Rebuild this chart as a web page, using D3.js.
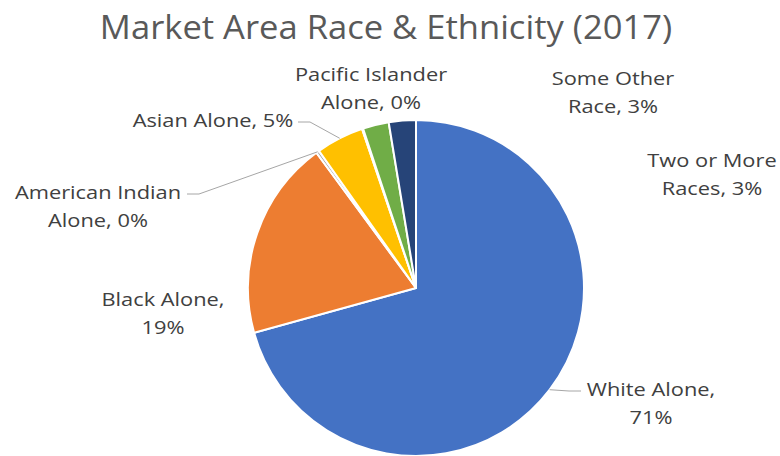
<!DOCTYPE html>
<html lang="en">
<head>
  <meta charset="UTF-8">
  <title>Market Area Race & Ethnicity (2017)</title>
  <style>
    body {
      margin: 0;
      padding: 0;
      background: #fff;
    }
    svg text {
      font-family: "Open Sans", Lato, sans-serif;
    }
    .title {
      fill: #595959;
      font-size: 32px;
    }
    .label {
      fill: #404040;
      font-size: 18.5px;
    }
    .leader {
      fill: none;
      stroke: #a6a6a6;
      stroke-width: 1;
    }
  </style>
</head>
<body>
  <div id="chart"></div>

  <script src="https://d3js.org/d3.v7.min.js"></script>
  <script>
    // Dados do gráfico
    const categories = ["White Alone", "Black Alone", "American Indian Alone", "Asian Alone",
      "Pacific Islander Alone", "Some Other Race", "Two or More Races"];
    const shares = [70.7, 19.2, 0.3, 4.6, 0.1, 2.5, 2.6];
    const colors = ["#4472c4", "#ed7d31", "#a5a5a5", "#ffc000", "#5b9bd5", "#70ad47", "#264478"];
    // linhas de cada rótulo
    const labelLines = [
      ["White Alone,", "71%"],
      ["Black Alone,", "19%"],
      ["American Indian", "Alone, 0%"],
      ["Asian Alone, 5%"],
      ["Pacific Islander", "Alone, 0%"],
      ["Some Other", "Race, 3%"],
      ["Two or More", "Races, 3%"]
    ];

    const width = 780;
    const height = 456;
    const cx = 416, cy = 288, radius = 168;
    // a fonte original é mais larga, esticar na horizontal
    const titleStretch = 1.08;
    const labelStretch = 1.18;

    // posição dos rótulos (âncora central, linha de base da primeira linha)
    const labelPos = [
      { x: 651, y: 396, leader: true, lx: 581 },
      { x: 163, y: 306 },
      { x: 98, y: 199, leader: true, lx: 187 },
      { x: 213, y: 127, leader: true, lx: 298 },
      { x: 371, y: 81 },
      { x: 613, y: 85 },
      { x: 712, y: 167 }
    ];

    const data = categories.map((c, i) => ({ name: c, value: shares[i], color: colors[i], i: i }));

    const svg = d3.select("#chart")
      .append("svg")
      .attr("width", width)
      .attr("height", height);

    svg.append("text")
      .attr("class", "title")
      .attr("transform", `translate(386, 39) scale(${titleStretch}, 1)`)
      .attr("text-anchor", "middle")
      .text("Market Area Race & Ethnicity (2017)");

    const pie = d3.pie()
      .sort(null)
      .value(d => d.value);

    const arc = d3.arc()
      .innerRadius(0)
      .outerRadius(radius);

    const arcs = pie(data);

    const g = svg.append("g")
      .attr("transform", `translate(${cx}, ${cy})`);

    g.selectAll("path")
      .data(arcs)
      .enter()
      .append("path")
      .attr("d", arc)
      .attr("fill", d => d.data.color)
      .attr("stroke", "#fff")
      .attr("stroke-width", 2)
      .attr("stroke-linejoin", "round");

    // linhas de chamada
    const edge = d3.arc().innerRadius(radius).outerRadius(radius);
    arcs.forEach((d, i) => {
      const p = labelPos[i];
      if (!p.leader) return;
      const c = edge.centroid(d);
      const tx = cx + c[0], ty = cy + c[1];
      const ly = p.y - 5;
      const dir = tx > p.lx ? 1 : -1;
      svg.append("path")
        .attr("class", "leader")
        .attr("d", d3.line()([[p.lx, ly], [p.lx + dir * 12, ly], [tx, ty]]));
    });

    // rótulos
    const labels = svg.selectAll("text.label")
      .data(arcs)
      .enter()
      .append("text")
      .attr("class", "label")
      .attr("text-anchor", "middle")
      .attr("transform", (d, i) => `translate(${labelPos[i].x}, ${labelPos[i].y}) scale(${labelStretch}, 1)`);

    labels.selectAll("tspan")
      .data((d, i) => labelLines[i])
      .enter()
      .append("tspan")
      .attr("x", 0)
      .attr("dy", (d, j) => j === 0 ? 0 : 28)
      .text(d => d);
  </script>
</body>
</html>
